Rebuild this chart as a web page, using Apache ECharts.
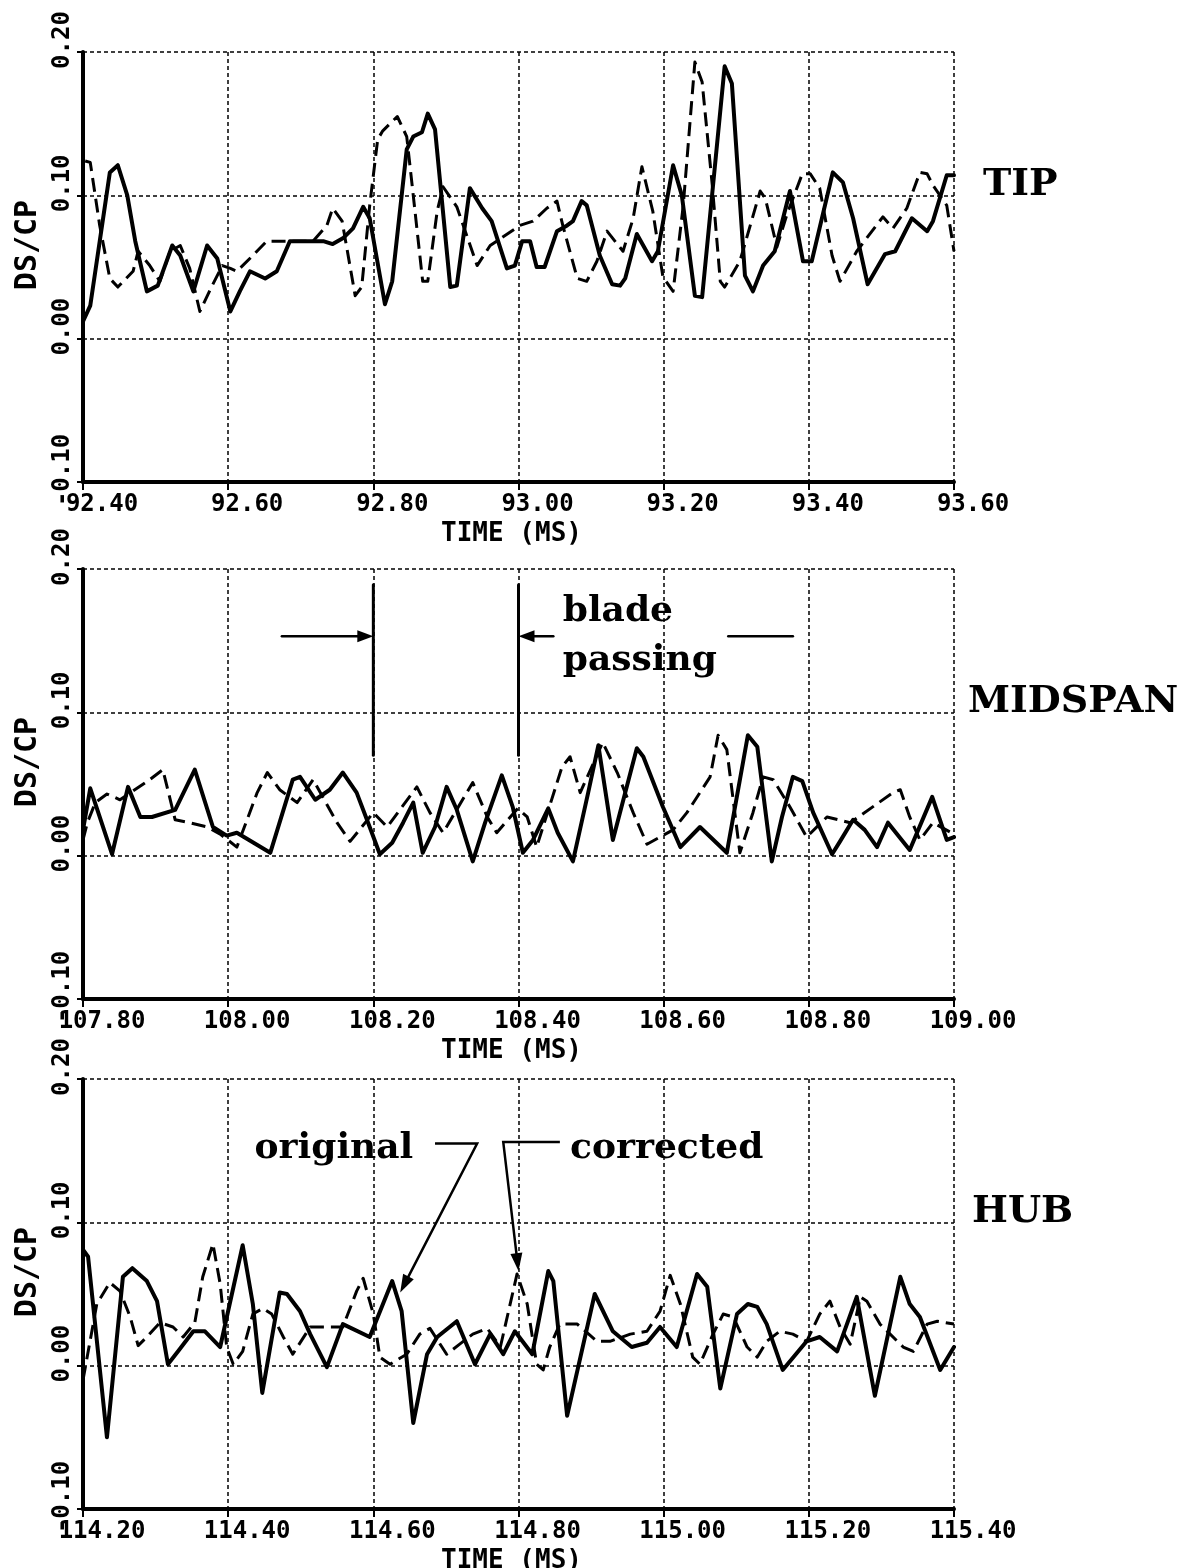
<!DOCTYPE html>
<html>
<head>
<meta charset="utf-8">
<title>DS/CP time histories</title>
<script src="https://cdn.jsdelivr.net/npm/echarts@6/dist/echarts.min.js"></script>
<style>
  html, body { margin: 0; padding: 0; background: #ffffff; }
  #chart { width: 1188px; height: 1568px; }
</style>
</head>
<body>
<div id="chart"></div>
<script>
// Span labels and time windows (ms) of the three stacked panels
const panelNames = ['TIP', 'MIDSPAN', 'HUB'];
const timeStarts = [92.40, 107.80, 114.20];
const timeEnds = [93.60, 109.00, 115.40];
const timeStep = 0.20;
const valueMin = -0.10;
const valueMax = 0.20;
const valueStep = 0.10;

// [time (ms), DS/CP] — solid = original, dashed = corrected
const tipOriginal = [[92.400,0.012],[92.410,0.023],[92.437,0.116],[92.448,0.121],[92.461,0.100],[92.472,0.068],[92.488,0.033],[92.503,0.037],[92.523,0.065],[92.534,0.058],[92.552,0.033],[92.571,0.065],[92.585,0.056],[92.603,0.019],[92.616,0.033],[92.630,0.047],[92.651,0.042],[92.667,0.047],[92.685,0.068],[92.717,0.068],[92.731,0.068],[92.744,0.066],[92.758,0.070],[92.772,0.077],[92.786,0.092],[92.795,0.084],[92.816,0.024],[92.826,0.040],[92.846,0.132],[92.855,0.141],[92.867,0.144],[92.875,0.157],[92.885,0.146],[92.906,0.036],[92.915,0.037],[92.933,0.105],[92.950,0.091],[92.963,0.082],[92.984,0.049],[92.995,0.051],[93.005,0.068],[93.016,0.068],[93.025,0.050],[93.036,0.050],[93.053,0.075],[93.067,0.079],[93.075,0.082],[93.087,0.096],[93.094,0.093],[93.112,0.058],[93.129,0.038],[93.140,0.037],[93.147,0.042],[93.163,0.073],[93.184,0.054],[93.192,0.061],[93.213,0.121],[93.225,0.100],[93.243,0.030],[93.253,0.029],[93.284,0.190],[93.294,0.178],[93.312,0.044],[93.323,0.033],[93.337,0.051],[93.353,0.061],[93.374,0.103],[93.392,0.054],[93.404,0.054],[93.433,0.116],[93.447,0.109],[93.461,0.084],[93.481,0.038],[93.505,0.059],[93.519,0.061],[93.542,0.084],[93.563,0.075],[93.571,0.082],[93.590,0.114],[93.600,0.114]];
const tipCorrected = [[92.403,0.124],[92.410,0.123],[92.423,0.079],[92.437,0.042],[92.448,0.036],[92.469,0.047],[92.476,0.061],[92.492,0.051],[92.506,0.040],[92.520,0.061],[92.534,0.065],[92.547,0.049],[92.561,0.019],[92.578,0.037],[92.592,0.051],[92.603,0.049],[92.612,0.047],[92.634,0.058],[92.653,0.068],[92.681,0.068],[92.717,0.068],[92.736,0.079],[92.744,0.091],[92.757,0.082],[92.775,0.030],[92.784,0.036],[92.795,0.093],[92.806,0.139],[92.813,0.145],[92.833,0.155],[92.846,0.141],[92.855,0.100],[92.868,0.040],[92.875,0.040],[92.888,0.089],[92.896,0.106],[92.915,0.092],[92.943,0.051],[92.961,0.065],[93.002,0.079],[93.020,0.082],[93.039,0.091],[93.053,0.096],[93.061,0.079],[93.081,0.042],[93.094,0.040],[93.108,0.054],[93.122,0.075],[93.144,0.061],[93.158,0.084],[93.170,0.120],[93.185,0.089],[93.199,0.043],[93.213,0.033],[93.227,0.093],[93.243,0.193],[93.253,0.179],[93.267,0.107],[93.278,0.040],[93.284,0.036],[93.305,0.054],[93.333,0.103],[93.340,0.098],[93.356,0.064],[93.370,0.087],[93.391,0.115],[93.402,0.115],[93.415,0.105],[93.432,0.058],[93.443,0.040],[93.466,0.061],[93.502,0.085],[93.516,0.077],[93.535,0.091],[93.553,0.116],[93.563,0.115],[93.571,0.107],[93.590,0.093],[93.600,0.061]];

const midOriginal = [[107.800,0.018],[107.810,0.047],[107.840,0.001],[107.862,0.048],[107.879,0.027],[107.895,0.027],[107.927,0.032],[107.954,0.060],[107.979,0.020],[107.998,0.014],[108.012,0.016],[108.058,0.002],[108.089,0.053],[108.099,0.055],[108.120,0.039],[108.140,0.046],[108.158,0.058],[108.177,0.044],[108.195,0.020],[108.209,0.001],[108.226,0.009],[108.241,0.023],[108.255,0.037],[108.268,0.002],[108.285,0.020],[108.301,0.048],[108.315,0.032],[108.337,-0.004],[108.354,0.023],[108.377,0.056],[108.392,0.034],[108.406,0.002],[108.420,0.011],[108.441,0.033],[108.454,0.016],[108.475,-0.004],[108.496,0.044],[108.510,0.077],[108.530,0.011],[108.563,0.075],[108.572,0.069],[108.599,0.034],[108.623,0.006],[108.650,0.020],[108.687,0.002],[108.716,0.084],[108.729,0.076],[108.749,-0.004],[108.763,0.027],[108.778,0.055],[108.791,0.052],[108.806,0.030],[108.832,0.001],[108.843,0.010],[108.861,0.025],[108.877,0.018],[108.894,0.006],[108.909,0.023],[108.939,0.004],[108.970,0.041],[108.990,0.011],[109.000,0.013]];
const midCorrected = [[107.800,0.011],[107.806,0.023],[107.817,0.037],[107.833,0.043],[107.851,0.039],[107.892,0.053],[107.910,0.060],[107.927,0.025],[107.947,0.023],[107.971,0.020],[107.989,0.015],[108.012,0.006],[108.040,0.044],[108.054,0.058],[108.071,0.046],[108.095,0.037],[108.117,0.053],[108.150,0.023],[108.168,0.010],[108.200,0.030],[108.219,0.020],[108.260,0.048],[108.278,0.030],[108.296,0.016],[108.337,0.051],[108.357,0.027],[108.370,0.016],[108.399,0.033],[108.412,0.027],[108.425,0.006],[108.460,0.062],[108.471,0.069],[108.485,0.044],[108.516,0.079],[108.536,0.058],[108.558,0.030],[108.577,0.008],[108.613,0.018],[108.632,0.030],[108.664,0.055],[108.675,0.084],[108.687,0.074],[108.705,0.002],[108.723,0.030],[108.737,0.055],[108.751,0.053],[108.774,0.034],[108.797,0.013],[108.825,0.027],[108.857,0.023],[108.916,0.044],[108.926,0.046],[108.939,0.027],[108.953,0.011],[108.971,0.023],[109.000,0.015]];

const hubOriginal = [[114.200,0.081],[114.207,0.076],[114.233,-0.050],[114.255,0.062],[114.268,0.068],[114.288,0.059],[114.302,0.045],[114.317,0.001],[114.331,0.010],[114.352,0.024],[114.368,0.024],[114.389,0.013],[114.420,0.084],[114.434,0.043],[114.447,-0.019],[114.471,0.051],[114.481,0.050],[114.499,0.038],[114.513,0.022],[114.536,-0.001],[114.558,0.029],[114.595,0.020],[114.626,0.059],[114.639,0.038],[114.655,-0.040],[114.674,0.008],[114.688,0.020],[114.715,0.031],[114.740,0.001],[114.761,0.022],[114.779,0.008],[114.795,0.024],[114.819,0.008],[114.841,0.066],[114.848,0.059],[114.867,-0.035],[114.905,0.050],[114.930,0.024],[114.956,0.013],[114.977,0.016],[114.995,0.027],[115.018,0.013],[115.046,0.064],[115.060,0.055],[115.078,-0.016],[115.101,0.036],[115.116,0.043],[115.129,0.041],[115.142,0.029],[115.164,-0.003],[115.197,0.017],[115.215,0.020],[115.239,0.010],[115.266,0.048],[115.291,-0.021],[115.326,0.062],[115.339,0.043],[115.353,0.034],[115.381,-0.003],[115.400,0.013]];
const hubCorrected = [[114.200,-0.010],[114.219,0.043],[114.237,0.058],[114.251,0.052],[114.265,0.034],[114.276,0.014],[114.288,0.020],[114.306,0.030],[114.324,0.027],[114.338,0.020],[114.354,0.030],[114.365,0.062],[114.379,0.085],[114.389,0.057],[114.398,0.013],[114.407,0.001],[114.420,0.010],[114.434,0.036],[114.448,0.040],[114.460,0.036],[114.476,0.020],[114.489,0.008],[114.513,0.027],[114.536,0.027],[114.558,0.027],[114.577,0.052],[114.586,0.061],[114.600,0.036],[114.609,0.006],[114.623,0.001],[114.646,0.008],[114.664,0.022],[114.678,0.026],[114.701,0.008],[114.719,0.015],[114.737,0.022],[114.757,0.026],[114.775,0.013],[114.798,0.064],[114.812,0.043],[114.825,0.001],[114.834,-0.003],[114.843,0.013],[114.857,0.029],[114.881,0.029],[114.908,0.017],[114.926,0.017],[114.954,0.022],[114.977,0.024],[114.995,0.038],[115.009,0.063],[115.023,0.043],[115.040,0.006],[115.050,0.001],[115.068,0.022],[115.082,0.036],[115.096,0.034],[115.115,0.013],[115.129,0.006],[115.142,0.017],[115.160,0.024],[115.178,0.022],[115.197,0.017],[115.215,0.036],[115.229,0.045],[115.243,0.027],[115.257,0.015],[115.271,0.048],[115.280,0.045],[115.298,0.029],[115.330,0.013],[115.344,0.010],[115.363,0.029],[115.377,0.031],[115.400,0.029]];

const originalSeries = [tipOriginal, midOriginal, hubOriginal];
const correctedSeries = [tipCorrected, midCorrected, hubCorrected];

// Annotation anchors in data units
const bladeMarks = [108.20, 108.40];
const bladeTop = 0.189, bladeBottom = 0.070, bladeArrowLevel = 0.153;
const bladeLeftTail = 108.074, bladeRightTail = 108.448;
const bladeDash = [108.689, 108.778];
const bladeTextTime = 108.461, bladeTextLevels = [0.162, 0.128];
const originalLeader = [[114.685, 0.155], [114.743, 0.155], [114.637, 0.051]];
const correctedLeader = [[114.857, 0.156], [114.779, 0.156], [114.800, 0.066]];
const originalText = [114.655, 0.143];
const correctedText = [114.871, 0.143];
const panelNameLevel = 0.107;

const layout = {
  left: 83, width: 871, height: 430,
  tops: [52, 569, 1079],
  nameOffsets: [29, 14, 18]
};

const INK = '#000000';
const MONO = '"DejaVu Sans Mono", "Liberation Mono", monospace';
const SERIF = '"DejaVu Serif", "Liberation Serif", serif';
const fmt2 = v => (Math.abs(v) < 1e-9 ? 0 : v).toFixed(2);

const grids = [], xAxes = [], yAxes = [], series = [];
for (let i = 0; i < 3; i++) {
  grids.push({
    left: layout.left, top: layout.tops[i], width: layout.width, height: layout.height,
    containLabel: false, outerBoundsMode: 'none'
  });
  xAxes.push({
    gridIndex: i, type: 'value', min: timeStarts[i], max: timeEnds[i], interval: timeStep,
    name: 'TIME (MS)', nameLocation: 'middle', nameGap: 39,
    nameTextStyle: { fontFamily: MONO, fontWeight: 'bold', fontSize: 26, color: INK, padding: [0, 14, 0, 0] },
    axisLine: { show: true, onZero: false, lineStyle: { color: INK, width: 4 } },
    axisTick: { show: true, inside: false, length: 8, lineStyle: { color: INK, width: 2 } },
    axisLabel: {
      formatter: fmt2, fontFamily: MONO, fontWeight: 'bold', fontSize: 24, color: INK,
      margin: 11, padding: [0, 0, 0, 38], showMinLabel: true, showMaxLabel: true
    },
    splitLine: { show: true, showMinLine: false, showMaxLine: true, lineStyle: { color: INK, width: 1.5, type: [4, 3] } }
  });
  yAxes.push({
    gridIndex: i, type: 'value', min: valueMin, max: valueMax, interval: valueStep,
    name: 'DS/CP', nameLocation: 'middle', nameGap: 36, nameRotate: 90,
    nameTextStyle: { fontFamily: MONO, fontWeight: 'bold', fontSize: 30, color: INK, padding: [0, 0, 0, 44] },
    axisLine: { show: true, onZero: false, lineStyle: { color: INK, width: 4 } },
    axisTick: { show: true, inside: false, length: 6, lineStyle: { color: INK, width: 2 } },
    axisLabel: {
      formatter: fmt2, rotate: 90, fontFamily: MONO, fontWeight: 'bold', fontSize: 24, color: INK,
      margin: 8, padding: [0, 0, 0, 24], showMinLabel: true, showMaxLabel: true
    },
    splitLine: { show: true, showMinLine: false, showMaxLine: true, lineStyle: { color: INK, width: 1.5, type: [4, 3] } }
  });
  series.push({
    name: 'original', type: 'line', xAxisIndex: i, yAxisIndex: i, data: originalSeries[i],
    symbol: 'none', showSymbol: false, smooth: false, z: 4,
    lineStyle: { color: INK, width: 4, join: 'round', cap: 'round' }
  });
  series.push({
    name: 'corrected', type: 'line', xAxisIndex: i, yAxisIndex: i, data: correctedSeries[i],
    symbol: 'none', showSymbol: false, smooth: false, z: 3,
    lineStyle: { color: INK, width: 3, type: [14, 7], join: 'round', cap: 'butt' }
  });
}

const chart = echarts.init(document.getElementById('chart'), null, { renderer: 'canvas' });
chart.setOption({
  backgroundColor: '#ffffff',
  animation: false,
  grid: grids, xAxis: xAxes, yAxis: yAxes, series: series
});

// Annotations placed from data coordinates
const toPx = (i, t, v) => chart.convertToPixel({ xAxisIndex: i, yAxisIndex: i }, [t, v]);
const graphics = [];
const seg = (a, b, w) => graphics.push({
  type: 'line', z: 10, shape: { x1: a[0], y1: a[1], x2: b[0], y2: b[1] },
  style: { stroke: INK, lineWidth: w || 2.5, lineCap: 'round' }
});
const head = (tip, from, len, half) => {
  const dx = tip[0] - from[0], dy = tip[1] - from[1];
  const d = Math.hypot(dx, dy) || 1;
  const ux = dx / d, uy = dy / d;
  const bx = tip[0] - ux * len, by = tip[1] - uy * len;
  graphics.push({
    type: 'polygon', z: 11,
    shape: { points: [tip, [bx - uy * half, by + ux * half], [bx + uy * half, by - ux * half]] },
    style: { fill: INK }
  });
};
const label = (p, text, font, align) => graphics.push({
  type: 'text', z: 12, x: p[0], y: p[1],
  style: { text: text, font: font, fill: INK, textAlign: align || 'left', textVerticalAlign: 'middle' }
});

// Panel names on the right
for (let i = 0; i < 3; i++) {
  const p = toPx(i, timeEnds[i], panelNameLevel);
  label([p[0] + layout.nameOffsets[i], p[1]], panelNames[i], 'bold 38px ' + SERIF);
}

// Blade passing markers (midspan panel)
bladeMarks.forEach(t => seg(toPx(1, t, bladeTop), toPx(1, t, bladeBottom), 3));
{
  const a1 = toPx(1, bladeLeftTail, bladeArrowLevel), b1 = toPx(1, bladeMarks[0], bladeArrowLevel);
  seg(a1, [b1[0] - 8, b1[1]], 2.5); head(b1, a1, 16, 6);
  const a2 = toPx(1, bladeRightTail, bladeArrowLevel), b2 = toPx(1, bladeMarks[1], bladeArrowLevel);
  seg(a2, [b2[0] + 8, b2[1]], 2.5); head(b2, a2, 16, 6);
  seg(toPx(1, bladeDash[0], bladeArrowLevel), toPx(1, bladeDash[1], bladeArrowLevel), 2.5);
  const t1 = toPx(1, bladeTextTime, bladeTextLevels[0]);
  const t2 = toPx(1, bladeTextTime, bladeTextLevels[1]);
  label([t1[0], t1[1] - 12], 'blade', 'bold 36px ' + SERIF);
  label([t2[0], t2[1] - 12], 'passing', 'bold 36px ' + SERIF);
}

// original / corrected leaders (hub panel)
[originalLeader, correctedLeader].forEach(path => {
  const pts = path.map(d => toPx(2, d[0], d[1]));
  const tip = pts[2], knee = pts[1];
  const dx = tip[0] - knee[0], dy = tip[1] - knee[1], d = Math.hypot(dx, dy);
  const stop = [tip[0] - dx / d * 10, tip[1] - dy / d * 10];
  graphics.push({
    type: 'polyline', z: 10, shape: { points: [pts[0], knee, stop] },
    style: { stroke: INK, lineWidth: 2.5, fill: null, lineJoin: 'miter' }
  });
  head(tip, knee, 18, 6);
});
{
  const po = toPx(2, originalText[0], originalText[1]);
  label([po[0], po[1] - 12], 'original', 'bold 36px ' + SERIF, 'right');
  const pc = toPx(2, correctedText[0], correctedText[1]);
  label([pc[0], pc[1] - 12], 'corrected', 'bold 36px ' + SERIF, 'left');
}

chart.setOption({ graphic: graphics });
</script>
</body>
</html>
